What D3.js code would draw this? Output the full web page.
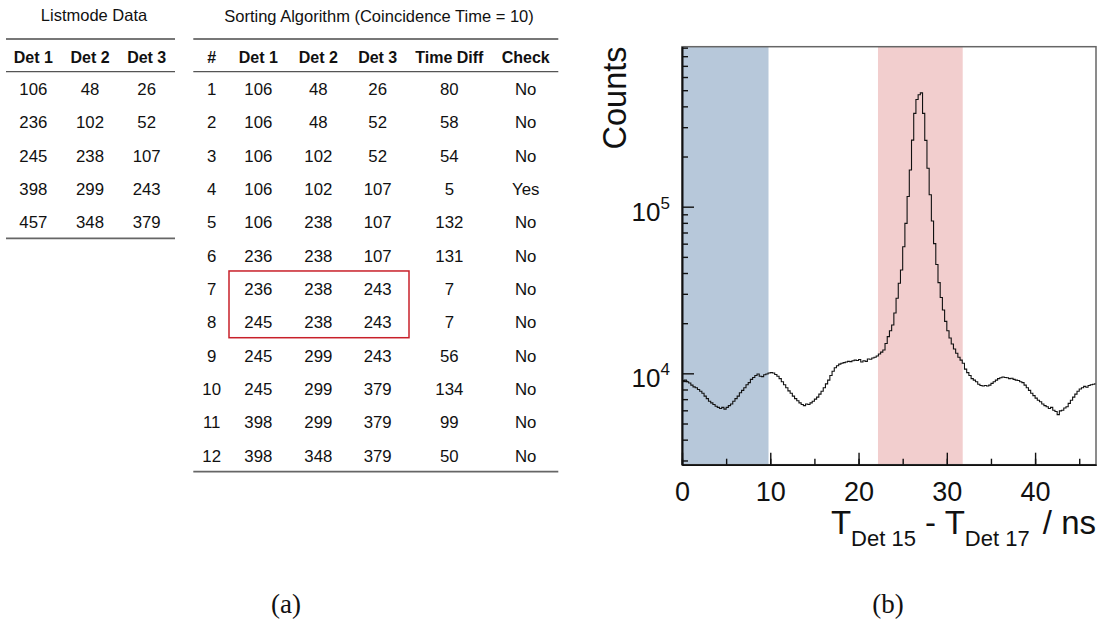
<!DOCTYPE html>
<html>
<head>
<meta charset="utf-8">
<script src="https://cdn.jsdelivr.net/npm/d3@7"></script>
<style>
  body { margin: 0; background: #fff; }
  svg { display: block; font-family: "Liberation Sans", Arial, Helvetica, sans-serif; }
  text { white-space: pre; }
</style>
</head>
<body>
<svg id="fig" width="1101" height="622"></svg>
<script>
// ---------- (a) listmode data ----------
const listHeaders = ["Det 1", "Det 2", "Det 3"];
const listDet1 = [106, 236, 245, 398, 457];
const listDet2 = [48, 102, 238, 299, 348];
const listDet3 = [26, 52, 107, 243, 379];

// ---------- (a) sorting algorithm steps ----------
const sortTitle = "Sorting Algorithm (Coincidence Time = 10)";
const sortHeaders = ["#", "Det 1", "Det 2", "Det 3", "Time Diff", "Check"];
const sortStep = [1, 2, 3, 4, 5, 6, 7, 8, 9, 10, 11, 12];
const sortDet1 = [106, 106, 106, 106, 106, 236, 236, 245, 245, 245, 398, 398];
const sortDet2 = [48, 48, 102, 102, 238, 238, 238, 238, 299, 299, 299, 348];
const sortDet3 = [26, 52, 52, 107, 107, 107, 243, 243, 243, 379, 379, 379];
const timeDiff = [80, 58, 54, 5, 132, 131, 7, 7, 56, 134, 99, 50];
const checkResult = ["No", "No", "No", "Yes", "No", "No", "No", "No", "No", "No", "No", "No"];
const boxedSteps = [7, 8];

// ---------- (b) time difference spectrum ----------
const binWidth = 0.25;   // ns
const counts = [
  9050, 9100, 8900, 8750, 8500, 8300, 8200, 8000,
  7800, 7600, 7300, 7050, 6800, 6650, 6500, 6350,
  6250, 6150, 6250, 6100, 6250, 6400, 6550, 6800,
  7050, 7300, 7650, 7900, 8200, 8550, 8800, 9200,
  9450, 9700, 9900, 9600, 9550, 9800, 9900, 10050,
  10100, 10050, 9850, 9600, 9300, 8900, 8550, 8200,
  7850, 7600, 7300, 7050, 6850, 6650, 6500, 6400,
  6550, 6500, 6650, 6800, 7000, 7200, 7500, 7800,
  8200, 8650, 9100, 9700, 10300, 10800, 11100, 11350,
  11500, 11600, 11700, 11800, 11750, 11900, 12000, 11950,
  12100, 11700, 11900, 11800, 12200, 12150, 12350, 12500,
  12700, 13060, 13400, 13800, 15100, 16600, 18000, 19500,
  23000, 28200, 34700, 41700, 57500, 79400, 115000, 166000,
  251000, 363000, 440000, 470000, 482000, 363000, 250000, 170000,
  118000, 82000, 60000, 45000, 35000, 28500, 24000, 20500,
  18000, 16300, 15000, 14000, 13200, 12500, 12000, 11500,
  10600, 10100, 9700, 9300, 9100, 8900, 8600, 8450,
  8400, 8450, 8400, 8500, 8700, 8900, 9100, 9300,
  9400, 9500, 9450, 9400, 9300, 9350, 9200, 9100,
  9050, 8900, 8800, 8500, 8200, 7900, 7600, 7350,
  7100, 6900, 6750, 6550, 6400, 6300, 6150, 6250,
  6000, 5900, 5650, 5950, 6000, 6200, 6300, 6600,
  6900, 7200, 7500, 7800, 8050, 8200, 8350, 8250,
  8450, 8550, 8600, 8650
];
const windowRanges = [[0, 9.8], [22.2, 31.8]];
const windowColors = ["#b7c8da", "#f2cece"];
const xTickLabels = [0, 10, 20, 30, 40];
const yDecades = [1e4, 1e5];
const xDomain = [0, 46.9];
const yDomain = [2830, 9.12e5];

const svg = d3.select("#fig");

// ================= tables =================
function drawRules(g, x0, x1, yTop, yMid, yBot) {
  g.append("line").attr("x1", x0).attr("x2", x1).attr("y1", yTop).attr("y2", yTop)
    .attr("stroke", "#777").attr("stroke-width", 2);
  g.append("line").attr("x1", x0).attr("x2", x1).attr("y1", yMid).attr("y2", yMid)
    .attr("stroke", "#555").attr("stroke-width", 1.3);
  g.append("line").attr("x1", x0).attr("x2", x1).attr("y1", yBot).attr("y2", yBot)
    .attr("stroke", "#666").attr("stroke-width", 1.8);
}

const rowY = d3.scaleLinear().domain([0, 1]).range([95, 128.33]);
const headerY = 63.3;
const cellSize = "16.8px", headSize = "16px", titleSize = "16.5px";

// left table
const tA = svg.append("g");
const listCols = d3.scalePoint().domain(listHeaders).range([33.3, 146.7]);
tA.append("text").attr("x", 94).attr("y", 21).attr("text-anchor", "middle")
  .style("font-size", titleSize).attr("fill", "#111").text("Listmode Data");
drawRules(tA, 6, 175, 39, 71.7, rowY(listDet1.length - 1) + 10);
tA.selectAll("text.h").data(listHeaders).join("text").attr("class", "h")
  .attr("x", d => listCols(d)).attr("y", headerY).attr("text-anchor", "middle")
  .style("font-size", headSize).style("font-weight", "bold").attr("fill", "#111").text(d => d);
[listDet1, listDet2, listDet3].forEach((col, c) => {
  tA.selectAll("text.c" + c).data(col).join("text").attr("class", "c" + c)
    .attr("x", listCols(listHeaders[c])).attr("y", (d, i) => rowY(i))
    .attr("text-anchor", "middle").style("font-size", cellSize).attr("fill", "#111").text(d => d);
});

// right table
const tB = svg.append("g");
const sortColX = d3.scaleOrdinal().domain(sortHeaders).range([211.7, 258.3, 318.3, 377.7, 449.3, 525.7]);
tB.append("text").attr("x", 379).attr("y", 21.7).attr("text-anchor", "middle")
  .style("font-size", titleSize).attr("fill", "#111").text(sortTitle);
drawRules(tB, 193.3, 558.3, 39, 71.7, rowY(sortStep.length - 1) + 10);
tB.selectAll("text.h").data(sortHeaders).join("text").attr("class", "h")
  .attr("x", d => sortColX(d)).attr("y", headerY).attr("text-anchor", "middle")
  .style("font-size", headSize).style("font-weight", "bold").attr("fill", "#111").text(d => d);
[sortStep, sortDet1, sortDet2, sortDet3, timeDiff, checkResult].forEach((col, c) => {
  tB.selectAll("text.c" + c).data(col).join("text").attr("class", "c" + c)
    .attr("x", sortColX(sortHeaders[c])).attr("y", (d, i) => rowY(i))
    .attr("text-anchor", "middle").style("font-size", cellSize).attr("fill", "#111").text(d => d);
});
// box around the two steps that share a hit
{
  const i0 = sortStep.indexOf(boxedSteps[0]), i1 = sortStep.indexOf(boxedSteps[boxedSteps.length - 1]);
  const bx0 = sortColX("Det 1") - 29.3, bx1 = sortColX("Det 3") + 31.3;
  const by0 = rowY(i0) - 24, by1 = rowY(i1) + 9.4;
  tB.append("rect").attr("x", bx0).attr("y", by0).attr("width", bx1 - bx0).attr("height", by1 - by0)
    .attr("fill", "none").attr("stroke", "#c8202a").attr("stroke-width", 1.5);
}

// ================= histogram =================
const pLeft = 682, pRight = 1096, pTop = 46.7, pBottom = 464.7;
const x = d3.scaleLinear().domain(xDomain).range([pLeft, pRight]);
const y = d3.scaleLog().domain(yDomain).range([pBottom, pTop]);

const plot = svg.append("g");
plot.append("clipPath").attr("id", "plotclip").append("rect")
  .attr("x", pLeft).attr("y", pTop).attr("width", pRight - pLeft).attr("height", pBottom - pTop);

// coincidence windows
plot.selectAll("rect.win").data(windowRanges).join("rect").attr("class", "win")
  .attr("x", d => x(d[0])).attr("width", d => x(d[1]) - x(d[0]))
  .attr("y", pTop).attr("height", pBottom - pTop)
  .attr("fill", (d, i) => windowColors[i]);

// step histogram
const edges = d3.range(counts.length + 1).map(i => i * binWidth);
const pts = counts.map((c, i) => [edges[i], c]);
pts.push([edges[counts.length], counts[counts.length - 1]]);
const line = d3.line().x(d => x(d[0])).y(d => y(d[1])).curve(d3.curveStepAfter);
plot.append("path").datum(pts).attr("d", line).attr("fill", "none")
  .attr("stroke", "#111").attr("stroke-width", 1.1).attr("clip-path", "url(#plotclip)");

// frame
plot.append("rect").attr("x", pLeft).attr("y", pTop).attr("width", pRight - pLeft).attr("height", pBottom - pTop)
  .attr("fill", "none").attr("stroke", "#666").attr("stroke-width", 1.5);

// x axis (ticks inside the frame)
const xMinor = d3.range(0, 46, 5);
const gxMinor = plot.append("g").attr("transform", `translate(0,${pBottom})`)
  .call(d3.axisBottom(x).tickValues(xMinor).tickSizeInner(-6).tickSizeOuter(0).tickFormat(""));
const gx = plot.append("g").attr("transform", `translate(0,${pBottom})`)
  .call(d3.axisBottom(x).tickValues(xTickLabels).tickSizeInner(-12).tickSizeOuter(0).tickPadding(17).tickFormat(d3.format("d")));
[gxMinor, gx].forEach(g => {
  g.select(".domain").attr("stroke", "#111").attr("stroke-width", 1.6);
  g.selectAll(".tick line").attr("stroke", "#111").attr("stroke-width", 1.4);
});
gx.selectAll(".tick text").style("font-size", "27px").style("font-family", "Liberation Sans, Arial, sans-serif").attr("fill", "#111");

// y axis (log, ticks inside the frame)
const yMinor = y.ticks().filter(v => !yDecades.includes(v));
const gyMinor = plot.append("g").attr("transform", `translate(${pLeft},0)`)
  .call(d3.axisLeft(y).tickValues(yMinor).tickSizeInner(-6).tickSizeOuter(0).tickFormat(""));
const gy = plot.append("g").attr("transform", `translate(${pLeft},0)`)
  .call(d3.axisLeft(y).tickValues(yDecades).tickSizeInner(-12).tickSizeOuter(0).tickPadding(12).tickFormat(""));
[gyMinor, gy].forEach(g => {
  g.select(".domain").attr("stroke", "#111").attr("stroke-width", 1.6);
  g.selectAll(".tick line").attr("stroke", "#111").attr("stroke-width", 1.4);
});
gy.selectAll(".tick").each(function (d) {
  const t = d3.select(this).append("text").attr("x", -12).attr("y", 13.4)
    .attr("text-anchor", "end").attr("fill", "#111").style("font-size", "26px")
    .style("font-family", "Liberation Sans, Arial, sans-serif");
  t.append("tspan").text("10");
  t.append("tspan").attr("dy", -12).style("font-size", "17px").text(String(Math.round(Math.log10(d))));
});

// axis titles
svg.append("text").attr("transform", `translate(626,98) rotate(-90)`).attr("text-anchor", "middle")
  .style("font-size", "32.5px").attr("fill", "#111").text("Counts");

const xt = svg.append("text").attr("x", 1096).attr("y", 534).attr("text-anchor", "end")
  .style("font-size", "33px").attr("fill", "#111");
xt.append("tspan").text("T");
xt.append("tspan").attr("dy", 12).style("font-size", "22px").text("Det 15");
xt.append("tspan").attr("dy", -12).text(" - T");
xt.append("tspan").attr("dy", 12).style("font-size", "22px").text("Det 17");
xt.append("tspan").attr("dy", -12).attr("dx", 4).text(" / ns");

// sub-figure captions
const captions = [["(a)", 286], ["(b)", 888]];
svg.selectAll("text.cap").data(captions).join("text").attr("class", "cap")
  .attr("x", d => d[1]).attr("y", 613).attr("text-anchor", "middle")
  .style("font-family", "'Liberation Serif', 'DejaVu Serif', serif").style("font-size", "27px")
  .attr("fill", "#111").text(d => d[0]);
</script>
</body>
</html>
